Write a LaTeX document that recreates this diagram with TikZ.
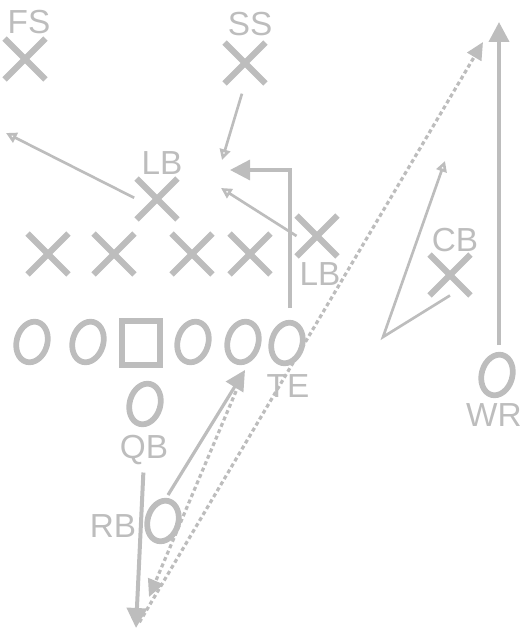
\documentclass[tikz,border=0pt]{standalone}
\usepackage{fontspec}
\setmainfont{Liberation Sans}
\usetikzlibrary{arrows.meta,shapes.misc,shapes.geometric}
\definecolor{pg}{RGB}{189,189,189}
\begin{document}
\begin{tikzpicture}[x=0.75pt,y=-0.75pt,
  defx/.style={cross out,draw=pg,line width=4.7pt,minimum width=26pt,minimum height=26pt,inner sep=0pt},
  offo/.style={ellipse,draw=pg,line width=4.3pt,minimum width=23pt,minimum height=31pt,inner sep=0pt,rotate=-16},
  ctr/.style={rectangle,draw=pg,line width=4.8pt,minimum width=28.5pt,minimum height=33pt,inner sep=0pt},
  lbl/.style={text=pg,font=\fontsize{25}{25}\selectfont,inner sep=0pt,text height=17.9pt,text depth=0pt},
  drop/.style={draw=pg,line width=2pt,-{Triangle[open,length=8pt,width=8pt]}},
  route/.style={draw=pg,line width=2.4pt,-{Triangle[length=15pt,width=15pt]}},
  pass/.style={draw=pg,line width=2.4pt,dash pattern=on 3pt off 2.2pt,-{Triangle[length=13pt,width=12pt]}},
]
\useasboundingbox (0,0) rectangle (521,630);
% defense
\node[defx] (fs) at (25,59) {};
\node[defx] (ss) at (245,63) {};
\node[defx] (lbm) at (157,199) {};
\node[defx] (dl1) at (48,254) {};
\node[defx] (dl2) at (114,254) {};
\node[defx] (dl3) at (192,254) {};
\node[defx] (dl4) at (250,254) {};
\node[defx] (lbr) at (317,236) {};
\node[defx] (cb) at (450,275) {};
% offense
\node[offo] (ol1) at (32,342) {};
\node[offo] (ol2) at (88,342) {};
\node[ctr] (c) at (141,343) {};
\node[offo] (ol3) at (193,342) {};
\node[offo] (ol4) at (243,342) {};
\node[offo] (te) at (287,343) {};
\node[offo] (qb) at (145,404) {};
\node[offo] (rb) at (163,521) {};
\node[offo] (wr) at (497,375) {};
% labels
\node[lbl] (fsl) at (29,21.5) {FS};
\node[lbl] (ssl) at (250,24) {SS};
\node[lbl] (lbml) at (162,162.5) {LB};
\node[lbl] (lbrl) at (320,274) {LB};
\node[lbl] (cbl) at (455,240) {CB};
\node[lbl] (tel) at (288,386) {TE};
\node[lbl] (qbl) at (144,447) {QB};
\node[lbl] (rbl) at (113,526) {RB};
\node[lbl] (wrl) at (494,415) {WR};
% coordinates
\coordinate (ssE) at (222,160);
\coordinate (lbmE) at (6,133);
\coordinate (lbrE) at (221,188);
\coordinate (cbC) at (383,337);
\coordinate (cbE) at (445,161);
\coordinate (teE) at (230,170);
\coordinate (wrE) at (499,22);
\coordinate (qbE) at (136,628);
\coordinate (rbE) at (245,370);
\coordinate (p2) at (149,597);
\coordinate (passE) at (483,42);
% defensive drops
\draw[drop,shorten <=8pt] (ss.south) -- (ssE);
\draw[drop,shorten <=2pt] (lbm.west) -- (lbmE);
\draw[drop] (lbr.west) -- (lbrE);
\draw[drop] (cb.south) -- (cbC) -- (cbE);
% routes
\draw[route] ([shift={(3,-35)}]te.center) |- (teE);
\draw[route,line width=3pt] ([shift={(2,-30)}]wr.center) -- (wrE);
\draw[route,line width=3pt,shorten <=10pt] (qbl.south) -- (qbE);
\draw[route] ([shift={(5,-26)}]rb.center) -- (rbE);
% passes
\draw[pass,shorten <=12pt] (rbE) -- (p2);
\draw[pass,shorten <=5pt] (qbE) -- (passE);
\end{tikzpicture}
\end{document}
